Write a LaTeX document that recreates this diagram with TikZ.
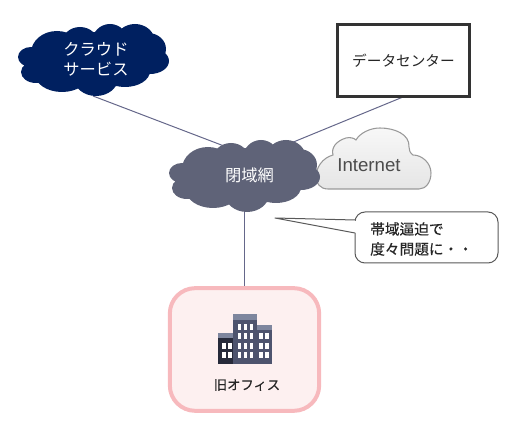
\documentclass[tikz,border=0pt]{standalone}
\usepackage{fontspec}
\setmainfont{Noto Sans CJK JP}
\newfontfamily\boldish[FakeBold=0.35]{Noto Sans CJK JP}
\newfontfamily\latinfont{Liberation Sans}
\definecolor{navycl}{HTML}{002060}
\definecolor{slatecl}{HTML}{5F6378}
\definecolor{linkcl}{HTML}{65678A}
\definecolor{pinkln}{HTML}{F7B9BD}
\definecolor{pinkbg}{HTML}{FDF0F0}
\definecolor{bldtop}{HTML}{7E869E}
\definecolor{bldmid}{HTML}{4E546E}
\definecolor{bldleft}{HTML}{262A3A}
\newcommand{\puffcloud}[3]{%
  \begin{scope}[shift={(#1,#2)}]
  \fill[#3]
    (93,60) ellipse [x radius=66,y radius=28]
    (57,53) ellipse [x radius=26,y radius=22]
    (80,45) ellipse [x radius=19,y radius=18]
    (110,42) ellipse [x radius=18,y radius=18]
    (135,42) ellipse [x radius=20,y radius=18]
    (148,49) ellipse [x radius=18,y radius=16]
    (150,61) ellipse [x radius=19,y radius=13]
    (125,71) ellipse [x radius=25,y radius=16]
    (96,78) ellipse [x radius=22,y radius=18]
    (62,74) ellipse [x radius=27,y radius=18]
    (36,72) ellipse [x radius=15,y radius=11]
    (31,57) ellipse [x radius=13,y radius=10];
  \end{scope}}
\tikzset{
  link/.style={draw=linkcl,line width=0.75pt},
  cloudtext/.style={text=white,font=\fontsize{12.2}{14}\selectfont,align=center,inner sep=0pt},
  darktext/.style={text=black!85,font=\boldish\fontsize{11}{15}\selectfont,align=left,inner sep=0pt},
  win/.style={fill=white},
}
\begin{document}
\begin{tikzpicture}[x=0.75pt,y=-0.75pt]
\useasboundingbox (0,0) rectangle (512,427);
% anchors
\coordinate (cloudfoot) at (93,96);
\coordinate (nwA) at (224,146);
\coordinate (nwB) at (291,143);
\coordinate (nwC) at (244,205);
\coordinate (dcfoot) at (403,97);
\coordinate (officetop) at (244,288);
\coordinate (tailtip) at (275,218);
% Internet cloud
\path[draw=black!40,line width=0.8pt,top color=black!3,bottom color=black!10]
  (328,189) .. controls (320,189) and (316,183) .. (316,177)
  .. controls (316,168) and (322,158) .. (333,155)
  .. controls (331,148) and (336,141) .. (346,138)
  .. controls (350,137) and (354,138) .. (356,140)
  .. controls (360,133) and (370,128) .. (380,128)
  .. controls (394,128) and (410,134) .. (409,147)
  .. controls (409,150) and (410,153) .. (413,155)
  .. controls (422,155) and (431,163) .. (431,173)
  .. controls (431,182) and (426,189) .. (419,189) -- cycle;
\node[inner sep=0pt,text=black!70,font=\latinfont\fontsize{14}{16}\selectfont] (inet) at (369,165) {Internet};
% connectors
\draw[link] (cloudfoot) -- (nwA);
\draw[link] (dcfoot) -- (nwB);
\draw[link] (nwC) -- (officetop);
% clouds
\puffcloud{0}{0}{navycl}
\puffcloud{151}{116}{slatecl}
\node[cloudtext] (cloudsvc) at (96,59) {クラウド\\[1pt]サービス};
\node[cloudtext] (closednet) at (249.5,175) {閉域網};
% data centre
\node[draw=black!80,line width=2.25pt,fill=white,minimum width=98.5pt,minimum height=53.5pt,inner sep=0pt,font=\fontsize{11}{12}\selectfont,text=black!85] (dc) at (403.5,60.5) {データセンター};
% callout
\draw[draw=black!65,fill=white,line width=0.75pt,rounded corners=7.5pt]
  (355,233) -- (355,263) -- (498,263) -- (498,212) -- (355,212) -- (355,220);
\draw[draw=black!65,fill=white,line width=0.75pt,line join=round] (355,220) -- (tailtip) -- (355,233);
\fill[white] (354.4,220.6) rectangle (356,232.4);
\node[darktext,anchor=west] (note) at (370,239) {帯域逼迫で\\度々問題に・・};
% office
\node[draw=pinkln,fill=pinkbg,line width=3pt,rounded corners=19pt,minimum width=112pt,minimum height=92pt,inner sep=0pt] (office) at (244.5,349.5) {};
% building
\fill[bldleft] (218,335) rectangle (233,364);
\fill[bldtop] (218,333) rectangle (233,338);
\fill[bldmid] (233,316) rectangle (257,364);
\fill[bldtop] (233,314) rectangle (257,320);
\fill[bldmid] (257,327) rectangle (272,364);
\fill[bldtop] (257,325) rectangle (272,330);
\foreach \wy in {324,333,343,352}
  \foreach \wx in {237.5,243.5,249.5}
    \fill[win] (\wx,\wy) rectangle ++(3.5,6);
\foreach \wy in {333,343,352}
  \foreach \wx in {259,265}
    \fill[win] (\wx,\wy) rectangle ++(3.5,6);
\foreach \wy in {343,352}
  \foreach \wx in {222,228}
    \fill[win] (\wx,\wy) rectangle ++(3.5,6);
\node[inner sep=0pt,text=black!85,font=\boldish\fontsize{10}{11}\selectfont] (officelabel) at (247,385) {旧オフィス};
\end{tikzpicture}
\end{document}
